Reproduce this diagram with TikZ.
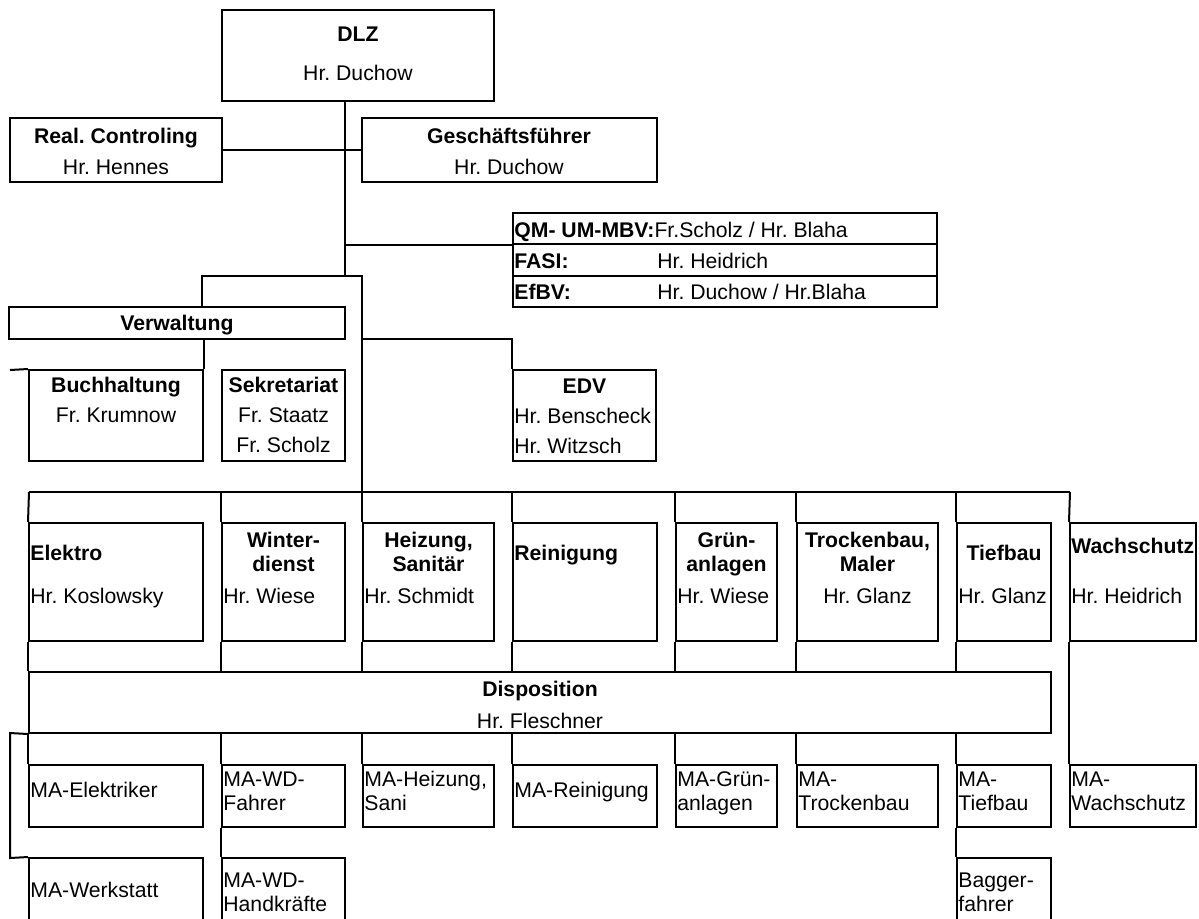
\documentclass[tikz,border=0pt]{standalone}
\usepackage{fontspec}
\setmainfont{Liberation Sans}
\usetikzlibrary{positioning,fit,calc}
\frenchspacing
\tikzset{
  box/.style={draw,line width=1pt,inner sep=0pt},
  ln/.style={line width=1pt},
  hd/.style={font=\fontsize{10.6}{11.75}\selectfont\bfseries,inner sep=0pt,anchor=base},
  nm/.style={font=\fontsize{10.6}{11.75}\selectfont,inner sep=0pt,anchor=base},
  nmw/.style={nm,anchor=base west,align=left},
}

\begin{document}
\begin{tikzpicture}[x=0.5pt,y=-0.5pt]
\useasboundingbox (0,0) rectangle (1199,918);
% top of the chart
\node[box,fit={(222,10) (494,101)}] (dlz) {};
\node[box,fit={(10,118) (222,182)}] (rc) {};
\node[box,fit={(362,118) (657,182)}] (gf) {};
\node[box,fit={(513,213) (937,244)}] (qm1) {};
\node[box,fit={(513,244) (937,276)}] (qm2) {};
\node[box,fit={(513,276) (937,307)}] (qm3) {};
\node[hd] (dlzT) at (358,41) {DLZ};
\node[nm] (dlzN) at (358,80) {Hr. Duchow};
\node[hd] (rcT) at (116,143) {Real. Controling};
\node[nm] (rcN) at (116,174) {Hr. Hennes};
\node[hd] (gfT) at (509,143) {Geschäftsführer};
\node[nm] (gfN) at (509,174) {Hr. Duchow};
\node[nmw] (qmT) at (514,237) {\textbf{QM- UM-MBV:}Fr.Scholz / Hr. Blaha};
\node[hd,anchor=base west] (fasiT) at (514,268) {FASI:};
\node[nmw] (fasiN) at (657,268) {Hr. Heidrich};
\node[hd,anchor=base west] (efbvT) at (514,299) {EfBV:};
\node[nmw] (efbvN) at (657,299) {Hr. Duchow / Hr.Blaha};
% Verwaltung and EDV
\node[box,fit={(9,307) (345,339)}] (verw) {};
\node[box,fit={(29,370) (203,461)}] (buch) {};
\node[box,fit={(222,370) (345,461)}] (sekr) {};
\node[box,fit={(513,370) (656,461)}] (edv) {};
\node[hd] (verwT) at (177,330) {Verwaltung};
\node[hd] (buchT) at (116,392) {Buchhaltung};
\node[nm] (buchN) at (116,422) {Fr. Krumnow};
\node[hd] (sekrT) at (283.5,392) {Sekretariat};
\node[nm] (sekrN) at (283.5,422) {Fr. Staatz};
\node[nm] (sekrM) at (283.5,452) {Fr. Scholz};
\node[hd] (edvT) at (584.5,393) {EDV};
\node[nmw] (edvN) at (514,423) {Hr. Benscheck};
\node[nmw] (edvM) at (514,453) {Hr. Witzsch};
% departments
\node[box,fit={(29,523) (203,641)}] (elek) {};
\node[box,fit={(222,523) (345,641)}] (wint) {};
\node[box,fit={(363,523) (494,641)}] (heiz) {};
\node[box,fit={(513,523) (657,641)}] (rein) {};
\node[box,fit={(676,523) (777,641)}] (gruen) {};
\node[box,fit={(797,523) (938,641)}] (trock) {};
\node[box,fit={(957,523) (1051,641)}] (tief) {};
\node[box,fit={(1070,523) (1196,641)}] (wach) {};
\node[hd,anchor=base west] (elekT) at (30,560) {Elektro};
\node[nmw] (elekN) at (30,603) {Hr. Koslowsky};
\node[hd,align=center] (wintT) at (283.5,571) {Winter-\\dienst};
\node[nmw] (wintN) at (223,603) {Hr. Wiese};
\node[hd,align=center] (heizT) at (428.5,571) {Heizung,\\Sanitär};
\node[nmw] (heizN) at (364,603) {Hr. Schmidt};
\node[hd,anchor=base west] (reinT) at (514,560) {Reinigung};
\node[hd,align=center] (gruenT) at (726.5,571) {Grün-\\anlagen};
\node[nmw] (gruenN) at (677,603) {Hr. Wiese};
\node[hd,align=center] (trockT) at (867.5,571) {Trockenbau,\\Maler};
\node[nm] (trockN) at (867.5,603) {Hr. Glanz};
\node[hd] (tiefT) at (1004,560) {Tiefbau};
\node[nmw] (tiefN) at (958,603) {Hr. Glanz};
\node[hd,anchor=base west] (wachT) at (1071,553) {Wachschutz};
\node[nmw] (wachN) at (1071,603) {Hr. Heidrich};
% Disposition
\node[box,fit={(29,672) (1051,733)}] (disp) {};
\node[hd] (dispT) at (540,696) {Disposition};
\node[nm] (dispN) at (540,728) {Hr. Fleschner};
% staff
\node[box,fit={(29,765) (203,827)}] (maElek) {};
\node[box,fit={(222,765) (345,827)}] (maWint) {};
\node[box,fit={(363,765) (494,827)}] (maHeiz) {};
\node[box,fit={(513,765) (657,827)}] (maRein) {};
\node[box,fit={(676,765) (777,827)}] (maGruen) {};
\node[box,fit={(797,765) (938,827)}] (maTrock) {};
\node[box,fit={(957,765) (1051,827)}] (maTief) {};
\node[box,fit={(1070,765) (1196,827)}] (maWach) {};
\node[box,fit={(29,858) (203,930)}] (maWerk) {};
\node[box,fit={(222,858) (345,930)}] (maHand) {};
\node[box,fit={(957,858) (1051,930)}] (maBagg) {};
\node[nmw] (maElekT) at (30,797) {MA-Elektriker};
\node[nmw] (maWintT) at (223,810) {MA-WD-\\Fahrer};
\node[nmw] (maHeizT) at (364,810) {MA-Heizung,\\Sani};
\node[nmw] (maReinT) at (514,797) {MA-Reinigung};
\node[nmw] (maGruenT) at (677,810) {MA-Grün-\\anlagen};
\node[nmw] (maTrockT) at (798,810) {MA-\\Trockenbau};
\node[nmw] (maTiefT) at (958,810) {MA-\\Tiefbau};
\node[nmw] (maWachT) at (1071,810) {MA-\\Wachschutz};
\node[nmw] (maWerkT) at (30,897) {MA-Werkstatt};
\node[nmw] (maHandT) at (223,911) {MA-WD-\\Handkräfte};
\node[nmw] (maBaggT) at (958,911) {Bagger-\\fahrer};
% junctions
\coordinate (j1) at (345,276);
\coordinate (vj) at (202,276);
\coordinate (rj) at (362,276);
\coordinate (ej) at (362,339);
\coordinate (vl) at (10,370);
\coordinate (barL) at (29,492);
\coordinate (barR) at (1070,492);
\coordinate (fa) at (10,733);
\coordinate (fb) at (10,858);
% connectors
\draw[ln] (dlz.south -| j1) -- (j1);
\draw[ln] (rc.east) -- (gf.west);
\draw[ln] (j1 |- qm1.south west) -- (qm1.south west);
\draw[ln] (verw.north -| vj) -- (vj) -- (rj) -- (rj |- barL);
\draw[ln] (verw.south -| buch.north east) -- (buch.north east);
\draw[ln] (vl) -- (buch.north west);
\draw[ln] (ej) -- (ej -| edv.north west) -- (edv.north west);
\draw[ln] (barL) -- (barR);
\draw[ln] (barL) -- (elek.north west); \draw[ln] (elek.south west) -- (disp.north west);
\draw[ln] (wint.north west |- barL) -- (wint.north west); \draw[ln] (wint.south west) -- (wint.south west |- disp.north);
\draw[ln] (heiz.north west |- barL) -- (heiz.north west); \draw[ln] (heiz.south west) -- (heiz.south west |- disp.north);
\draw[ln] (rein.north west |- barL) -- (rein.north west); \draw[ln] (rein.south west) -- (rein.south west |- disp.north);
\draw[ln] (gruen.north west |- barL) -- (gruen.north west); \draw[ln] (gruen.south west) -- (gruen.south west |- disp.north);
\draw[ln] (trock.north west |- barL) -- (trock.north west); \draw[ln] (trock.south west) -- (trock.south west |- disp.north);
\draw[ln] (tief.north west |- barL) -- (tief.north west); \draw[ln] (tief.south west) -- (tief.south west |- disp.north);
\draw[ln] (barR) -- (wach.north west); \draw[ln] (wach.south west) -- (maWach.north west);
\draw[ln] (disp.south west) -- (maElek.north west);
\draw[ln] (maWint.north west |- disp.south) -- (maWint.north west);
\draw[ln] (maHeiz.north west |- disp.south) -- (maHeiz.north west);
\draw[ln] (maRein.north west |- disp.south) -- (maRein.north west);
\draw[ln] (maGruen.north west |- disp.south) -- (maGruen.north west);
\draw[ln] (maTrock.north west |- disp.south) -- (maTrock.north west);
\draw[ln] (maTief.north west |- disp.south) -- (maTief.north west);
\draw[ln] (maWint.south west) -- (maHand.north west);
\draw[ln] (maTief.south west) -- (maBagg.north west);
\draw[ln] (disp.south west) -- (fa) -- (fb) -- (maWerk.north west);
\end{tikzpicture}
\end{document}
